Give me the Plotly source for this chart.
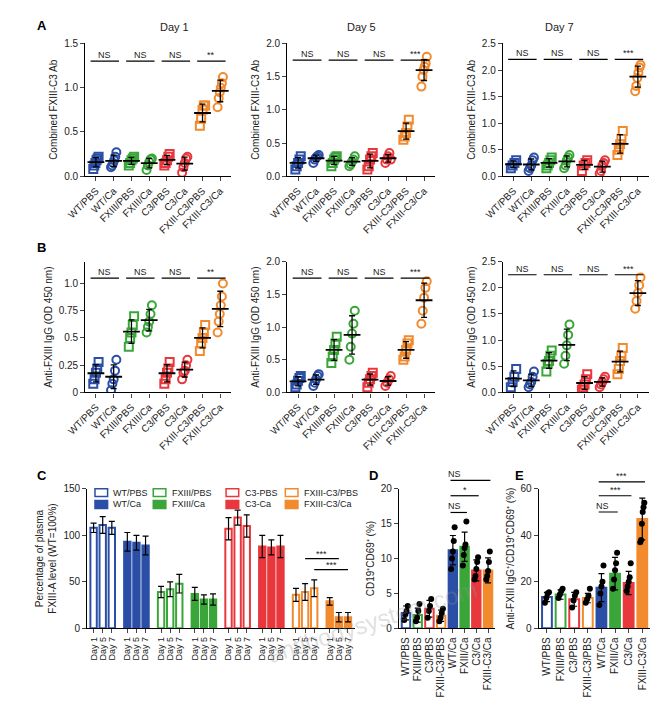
import plotly.graph_objects as go
import numpy as np

groups = ["WT/PBS", "WT/Ca", "FXIII/PBS", "FXIII/Ca", "C3/PBS", "C3/Ca", "FXIII-C3/PBS", "FXIII-C3/Ca"]
gcolors = ["#2b4ea6", "#2b4ea6", "#3aa63a", "#3aa63a", "#e8383d", "#e8383d", "#f28a2e", "#f28a2e"]

A_day1 = [[0.08,0.12,0.15,0.18,0.20,0.22],[0.10,0.12,0.15,0.18,0.22,0.27],[0.12,0.15,0.18,0.20,0.22],[0.07,0.12,0.16,0.19,0.20],
          [0.12,0.15,0.18,0.22,0.25],[0.04,0.10,0.15,0.20,0.22],[0.57,0.65,0.75,0.80,0.80],[0.78,0.88,0.95,1.00,1.05,1.12]]
A_day5 = [[0.10,0.15,0.20,0.25,0.30],[0.20,0.25,0.28,0.30,0.32],[0.15,0.20,0.25,0.28,0.30],[0.15,0.18,0.22,0.25,0.30],
          [0.10,0.15,0.25,0.30,0.35],[0.20,0.25,0.30,0.35,0.25],[0.55,0.60,0.65,0.75,0.85],[1.35,1.50,1.60,1.65,1.70,1.80]]
A_day7 = [[0.15,0.20,0.25,0.30],[0.10,0.15,0.20,0.30,0.35],[0.15,0.20,0.25,0.30,0.35],[0.15,0.20,0.30,0.35,0.40],
          [0.10,0.20,0.25,0.30],[0.05,0.10,0.20,0.25,0.30],[0.40,0.50,0.60,0.70,0.85],[1.60,1.70,1.85,1.95,2.05,2.10]]
B_day1 = [[0.08,0.12,0.18,0.22,0.28],[0.02,0.08,0.12,0.20,0.30],[0.42,0.50,0.55,0.62,0.70],[0.55,0.60,0.65,0.72,0.80],
          [0.08,0.12,0.18,0.22,0.28],[0.12,0.18,0.20,0.25,0.30],[0.38,0.45,0.50,0.55,0.62],[0.55,0.65,0.72,0.80,0.88,1.00]]
B_day5 = [[0.08,0.12,0.18,0.22,0.25],[0.10,0.15,0.20,0.25,0.28],[0.45,0.55,0.65,0.75,0.85],[0.50,0.70,0.90,1.05,1.25],
          [0.08,0.15,0.20,0.25,0.30],[0.10,0.15,0.20,0.25],[0.50,0.55,0.65,0.75,0.80],[1.05,1.25,1.45,1.60,1.70]]
B_day7 = [[0.10,0.20,0.30,0.45],[0.10,0.15,0.20,0.30,0.40],[0.40,0.55,0.60,0.70,0.80],[0.55,0.70,0.90,1.10,1.30],
          [0.05,0.10,0.15,0.25,0.35],[0.10,0.15,0.20,0.25,0.30],[0.35,0.45,0.60,0.70,0.85],[1.60,1.75,1.90,2.05,2.20]]
sig_labels_A = ["NS", "NS", "NS", "**"]
sig_labels_A5 = ["NS", "NS", "NS", "***"]

# Panel C
c_groups = ["WT/PBS", "WT/Ca", "FXIII/PBS", "FXIII/Ca", "C3-PBS", "C3-Ca", "FXIII-C3/PBS", "FXIII-C3/Ca"]
days = ["Day 1", "Day 5", "Day 7"]
c_means = [[108,111,108],[93,92,89],[39,42,48],[37,31,31],[107,119,110],[88,87,88],[36,39,43],[29,12,12]]
c_sd = [[5,9,7],[10,8,10],[6,8,10],[7,5,6],[12,8,12],[12,8,12],[7,9,9],[4,5,5]]

# Panels D and E
de_groups = ["WT/PBS", "FXIII/PBS", "C3/PBS", "FXIII-C3/PBS", "WT/Ca", "FXIII/Ca", "C3/Ca", "FXIII-C3/Ca"]
de_colors = ["#2b4ea6", "#3aa63a", "#e8383d", "#f28a2e"] * 2
d_means = [2.2, 1.9, 2.8, 1.8, 11.2, 11.7, 8.3, 8.3]
d_sd = [1.0, 1.0, 1.2, 0.8, 2.1, 2.1, 1.5, 1.8]
d_pts = [[1.2,2.0,2.5,3.2],[1.0,1.5,2.5,3.5],[1.5,2.5,3.2,4.2],[1.0,1.5,2.2,2.8],
         [8.5,10,11,12.5,14.5],[9,10.5,11.5,12,15.3],[7,7.5,8.5,9.5,10.2],[7,7.5,8.2,9.5,11]]
e_means = [13.5, 14.5, 12.5, 13.0, 17.5, 23.5, 19.5, 47.0]
e_sd = [2, 2, 3, 2, 6, 7, 5, 9]
e_pts = [[11,13,15,15.5],[13,14.5,16,17],[9,12,14,15.5],[11,12.5,14,17],
         [10,15,18,20,27],[17,21,25,28,32.5],[16,18,20,22,28],[37,38,45,50,52,54]]

fig = go.Figure()
H, W = 703, 658
def xd(a, b): return [a / W, b / W]
def yd(t, b): return [1 - b / H, 1 - t / H]

def style_axes(n, xdom, ydom, yr, ytv, yttext, ytitle, xtv, xtt, xangle, xr, xfs=10):
    xa = "xaxis" if n == 1 else f"xaxis{n}"
    ya = "yaxis" if n == 1 else f"yaxis{n}"
    fig.layout[xa] = dict(domain=xdom, anchor=f"y{n}" if n > 1 else "y", range=xr, tickvals=xtv, ticktext=xtt,
                          tickangle=xangle, showline=True, linecolor="black", linewidth=1.2, ticks="outside",
                          ticklen=4, showgrid=False, zeroline=False, tickfont=dict(size=xfs, color="#222"))
    fig.layout[ya] = dict(domain=ydom, anchor=f"x{n}" if n > 1 else "x", range=yr, tickvals=ytv, ticktext=yttext,
                          showline=True, linecolor="black", linewidth=1.2, ticks="outside", ticklen=4,
                          showgrid=False, zeroline=False, tickfont=dict(size=10, color="#222"),
                          title=dict(text=ytitle, font=dict(size=10, color="#222"), standoff=4))

def ref(n):
    return ("x" if n == 1 else f"x{n}"), ("y" if n == 1 else f"y{n}")

def scatter_panel(n, data, xdom, ydom, ymax, ytv, ytt, ytitle, title, sigs, sigy):
    xr_, yr_ = ref(n)
    for i, vals in enumerate(data):
        k = len(vals)
        jit = np.linspace(-0.15, 0.15, k)
        fig.add_trace(go.Scatter(x=i + jit, y=vals, mode="markers", xaxis=xr_, yaxis=yr_, showlegend=False,
                                 marker=dict(symbol="square-open" if i % 2 == 0 else "circle-open", size=8,
                                             color=gcolors[i], line=dict(width=2))))
        m = float(np.mean(vals)); s = float(np.std(vals, ddof=1))
        fig.add_trace(go.Scatter(x=[i], y=[m], mode="markers", xaxis=xr_, yaxis=yr_, showlegend=False,
                                 marker=dict(symbol="line-ew-open", size=12, color="black", line=dict(width=1.8)),
                                 error_y=dict(type="data", array=[s], color="black", thickness=1.3, width=3)))
    for j, lab in enumerate(sigs):
        fig.add_shape(type="line", xref=xr_, yref=yr_, x0=2 * j - 0.3, x1=2 * j + 1.3, y0=sigy, y1=sigy,
                      line=dict(color="black", width=1.2))
        fig.add_annotation(x=2 * j + 0.5, y=sigy, xref=xr_, yref=yr_, text=lab, showarrow=False, yanchor="bottom",
                           font=dict(size=9, color="#222"), yshift=-1)
    if title:
        fig.add_annotation(x=(xdom[0] + xdom[1]) / 2, y=ydom[1] + 0.012, xref="paper", yref="paper", text=title,
                           showarrow=False, yanchor="bottom", font=dict(size=11, color="#222"))
    style_axes(n, xdom, ydom, [0, ymax], ytv, ytt, ytitle, list(range(8)), groups, -45, [-0.6, 7.6])

rowA = yd(30, 165); rowB = yd(252, 385)
cols = [xd(60, 210), xd(268, 420), xd(490, 640)]
t15 = [0, 0.5, 1.0, 1.5]; t20 = [0, 0.5, 1.0, 1.5, 2.0]; t25 = [0, 0.5, 1.0, 1.5, 2.0, 2.5]
fmt = lambda L: [f"{v:.1f}" for v in L]
scatter_panel(1, A_day1, cols[0], rowA, 1.5, t15, fmt(t15), "Combined FXIII-C3 Ab", "Day 1", sig_labels_A, 1.3)
scatter_panel(2, A_day5, cols[1], rowA, 2.0, t20, fmt(t20), "Combined FXIII-C3 Ab", "Day 5", sig_labels_A5, 1.75)
scatter_panel(3, A_day7, cols[2], rowA, 2.5, t25, fmt(t25), "Combined FXIII-C3 Ab", "Day 7", sig_labels_A5, 2.2)
tb1 = [0, 0.25, 0.5, 0.75, 1.0]
scatter_panel(4, B_day1, cols[0], rowB, 1.2, tb1, ["0", "0.25", "0.5", "0.75", "1.0"], "Anti-FXIII IgG (OD 450 nm)", "", sig_labels_A, 1.05)
scatter_panel(5, B_day5, cols[1], rowB, 2.0, t20, fmt(t20), "Anti-FXIII IgG (OD 450 nm)", "", sig_labels_A5, 1.75)
scatter_panel(6, B_day7, cols[2], rowB, 2.5, t25, fmt(t25), "Anti-FXIII IgG (OD 450 nm)", "", sig_labels_A5, 2.25)

# Panel C
rowC = yd(483, 625)
xr_, yr_ = ref(7)
ctv, ctt = [], []
for g in range(8):
    xs = [g * 3.7 + d for d in range(3)]
    ctv += xs; ctt += days
    filled = g % 2 == 1
    fig.add_trace(go.Bar(x=xs, y=c_means[g], xaxis=xr_, yaxis=yr_, showlegend=False, width=0.7,
                         marker=dict(color=gcolors[g] if filled else "white", line=dict(color=gcolors[g], width=2)),
                         error_y=dict(type="data", array=c_sd[g], color="black", thickness=1.2, width=3)))
for (x0, x1, y, lab) in [(23.2, 26.9, 75, "***"), (24.2, 27.9, 63, "***")]:
    fig.add_shape(type="line", xref=xr_, yref=yr_, x0=x0, x1=x1, y0=y, y1=y, line=dict(color="black", width=1.2))
    fig.add_annotation(x=(x0 + x1) / 2, y=y, xref=xr_, yref=yr_, text=lab, showarrow=False, yanchor="bottom",
                       font=dict(size=9, color="#222"), yshift=-2)
style_axes(7, xd(62, 338), rowC, [0, 150], [0, 50, 100, 150], ["0", "50", "100", "150"],
           "Percentage of plasma<br>FXIII-A level (WT=100%)", ctv, ctt, -90, [-0.7, 28.7], xfs=9)

# manual legend for C
leg_x = [70, 130, 205, 266]
for g in range(8):
    col = g // 2; row = g % 2
    x0 = leg_x[col] / W; yc = 1 - (487 + row * 12) / H
    filled = g % 2 == 1
    fig.add_shape(type="rect", xref="paper", yref="paper", x0=x0, x1=x0 + 13 / W, y0=yc - 4 / H, y1=yc + 4 / H,
                  line=dict(color=gcolors[g], width=1.5), fillcolor=gcolors[g] if filled else "white")
    fig.add_annotation(x=x0 + 17 / W, y=yc, xref="paper", yref="paper", text=c_groups[g], showarrow=False,
                       xanchor="left", yanchor="middle", font=dict(size=9, color="#222"))

def bar_panel(n, means, sds, pts, xdom, ymax, ytv, ytitle, sigs):
    xr_, yr_ = ref(n)
    for i in range(8):
        filled = i >= 4
        fig.add_trace(go.Bar(x=[i], y=[means[i]], xaxis=xr_, yaxis=yr_, showlegend=False, width=0.72,
                             marker=dict(color=de_colors[i] if filled else "white", line=dict(color=de_colors[i], width=2)),
                             error_y=dict(type="data", array=[sds[i]], color="black", thickness=1.2, width=3)))
        k = len(pts[i])
        fig.add_trace(go.Scatter(x=i + np.linspace(-0.15, 0.15, k), y=pts[i], mode="markers", xaxis=xr_, yaxis=yr_,
                                 showlegend=False, marker=dict(color="black", size=6)))
    for (x1, y, lab) in sigs:
        yp = rowC[0] + y / ymax * (rowC[1] - rowC[0])
        fig.add_shape(type="line", xref=xr_, yref="paper", x0=3.8, x1=x1, y0=yp, y1=yp, line=dict(color="black", width=1.2))
        fig.add_annotation(x=(3.8 + x1) / 2 if lab != "NS" else 4.1, y=yp, xref=xr_, yref="paper", text=lab,
                           showarrow=False, yanchor="bottom", font=dict(size=9, color="#222"), yshift=-1)
    style_axes(n, xdom, rowC, [0, ymax], ytv, [str(v) for v in ytv], ytitle, list(range(8)), de_groups, -90, [-0.6, 7.6])

bar_panel(8, d_means, d_sd, d_pts, xd(383, 482), 20, [0, 5, 10, 15, 20], "CD19⁺CD69⁺ (%)",
          [(7.2, 21.2, "NS"), (6.2, 19.0, "*"), (5.2, 16.6, "NS")])
bar_panel(9, e_means, e_sd, e_pts, xd(527, 642), 60, [0, 20, 40, 60], "Anti-FXIII IgG⁺/CD19⁺CD69⁺ (%)",
          [(7.2, 63, "***"), (6.2, 57, "***"), (5.2, 50, "NS")])

for lab, x, y in [("A", 8, 12), ("B", 8, 238), ("C", 8, 470), ("D", 350, 470), ("E", 500, 470)]:
    fig.add_annotation(x=x / W, y=1 - y / H, xref="paper", yref="paper", text=f"<b>{lab}</b>", showarrow=False,
                       xanchor="left", yanchor="middle", font=dict(size=13, color="black"))

fig.add_annotation(x=470 / W, y=1 - 668 / H, xref="paper", yref="paper", text="antibodysystem.com", showarrow=False,
                   textangle=-18, font=dict(size=24, color="rgba(150,150,150,0.3)"))

fig.update_layout(width=W, height=H, margin=dict(l=0, r=0, t=0, b=0), plot_bgcolor="white", paper_bgcolor="white",
                  font=dict(family="Arial, Liberation Sans", size=10, color="#222"), barmode="overlay", showlegend=False)
fig.write_html("out.html")
